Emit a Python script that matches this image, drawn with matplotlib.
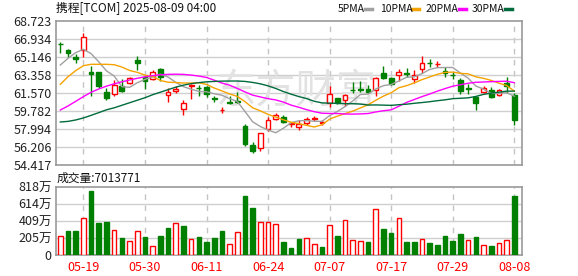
import numpy as np
import pandas as pd
import matplotlib
matplotlib.use("Agg")
import matplotlib.pyplot as plt
from matplotlib.lines import Line2D

plt.rcParams['font.family'] = ['Noto Sans CJK SC', 'DejaVu Sans']

# 日期（交易日），只标注部分刻度
tick_pos = [3, 11, 19, 27, 35, 43, 51, 59]
tick_labels = ["05-19", "05-30", "06-11", "06-24", "07-07", "07-17", "07-29", "08-08"]

# K线数据
open_ = [66.45, 65.84, 65.11, 65.84, 63.62, 63.66, 61.67, 61.50, 62.30, 62.53,
         64.85, 63.20, 62.93, 63.92, 61.34, 61.77, 60.01, 62.22, 62.10, 62.20,
         61.05, 59.86, 60.68, 60.74, 58.29, 56.40, 56.14, 58.02, 58.99, 59.22,
         58.50, 58.22, 58.56, 58.99, 58.56, 60.61, 61.04, 60.87, 61.90, 61.92,
         61.97, 61.87, 63.52, 63.09, 63.36, 63.55, 62.99, 63.92, 64.57, 64.46,
         63.76, 63.40, 62.86, 62.06, 61.21, 61.70, 61.87, 61.34, 62.60, 61.37]
close = [66.40, 65.58, 64.91, 67.10, 63.42, 62.30, 61.11, 62.36, 61.80, 63.09,
         64.58, 62.78, 63.62, 63.13, 61.67, 61.97, 60.61, 62.36, 62.05, 61.47,
         60.98, 59.90, 60.62, 60.70, 56.47, 55.84, 57.56, 58.89, 59.35, 58.72,
         58.58, 58.52, 58.95, 59.04, 58.66, 61.47, 60.54, 61.37, 61.85, 61.88,
         61.67, 63.08, 63.04, 62.43, 63.62, 63.50, 63.32, 64.58, 64.53, 64.50,
         63.59, 63.33, 61.80, 62.00, 60.61, 62.03, 61.21, 61.87, 62.27, 58.89]
high = [66.65, 65.97, 65.44, 67.50, 64.25, 63.70, 62.03, 62.86, 62.93, 63.12,
        65.25, 63.36, 63.85, 64.05, 62.03, 62.30, 60.87, 62.43, 62.36, 62.30,
        61.27, 60.21, 61.27, 61.70, 58.49, 56.73, 57.63, 59.15, 59.55, 59.35,
        58.72, 58.89, 59.15, 59.25, 58.89, 62.27, 61.10, 61.47, 62.70, 62.77,
        62.36, 63.13, 64.25, 63.19, 63.92, 64.09, 63.85, 65.25, 64.92, 64.78,
        64.12, 63.69, 63.03, 62.46, 61.27, 62.27, 62.20, 61.97, 63.19, 61.54]
low = [65.57, 65.18, 64.58, 65.11, 61.27, 62.03, 60.87, 61.27, 61.70, 62.43,
       63.85, 61.93, 62.86, 62.76, 60.71, 61.60, 59.38, 60.97, 61.27, 61.14,
       60.71, 59.62, 60.48, 60.54, 56.30, 55.64, 55.84, 57.83, 58.92, 58.62,
       58.16, 57.89, 58.39, 58.82, 58.36, 60.15, 60.48, 60.28, 61.60, 61.63,
       61.60, 61.27, 62.93, 62.36, 62.76, 63.19, 62.60, 63.59, 64.19, 64.12,
       63.19, 62.93, 61.47, 61.47, 59.88, 61.54, 61.04, 61.27, 61.60, 58.39]

# 成交量（万股）
volume = [230, 290, 290, 445, 766, 389, 397, 302, 206, 171,
          290, 218, 111, 230, 326, 385, 349, 195, 218, 163,
          206, 290, 135, 278, 711, 564, 397, 397, 373, 159,
          87, 195, 202, 131, 99, 357, 230, 417, 179, 167,
          159, 548, 314, 266, 441, 159, 159, 191, 147, 123,
          230, 171, 254, 179, 218, 119, 111, 143, 179, 701.3771]

# 均线开头部分（窗口之前的数据看不到，直接从图上读）
ma5_head = [64.35, 65.01, 65.58, 65.91]
ma10_head = [62.43, 63.19, 63.79, 64.28, 64.42, 64.42, 64.42, 64.38, 64.15]
ma20_head = [59.88, 60.28, 60.74, 61.21, 61.64, 61.97, 62.25, 62.48, 62.68, 62.86,
             63.03, 63.18, 63.30, 63.38, 63.42, 63.44, 63.42, 63.35, 63.25]
ma30_head = [58.69, 58.75, 58.89, 59.09, 59.35, 59.62, 59.90, 60.10, 60.35, 60.60,
             60.85, 61.10, 61.40, 61.65, 61.90, 62.15, 62.35, 62.50, 62.60, 62.68,
             62.72, 62.75, 62.76, 62.76, 62.72, 62.62, 62.48, 62.28, 62.02]

price_ticks = [54.417, 56.206, 57.994, 59.782, 61.570, 63.358, 65.146, 66.934, 68.723]
vol_ticks = [0, 204.5, 409, 613.5, 818]
vol_tick_labels = ["0", "205万", "409万", "614万", "818万"]

RED = "#ff0000"
GREEN = "#008000"
ma_colors = {"5PMA": "#a0a0a0", "10PMA": "#f5a300", "20PMA": "#ff00ff", "30PMA": "#006b3c"}

W, H = 578, 276


def moving_avg(head, n):
    s = pd.Series(close).rolling(n).mean().to_numpy()
    s[:len(head)] = head
    return s


def style_axes(ax):
    for sp in ax.spines.values():
        sp.set_color("#999999")
        sp.set_linewidth(1.2)
    ax.tick_params(length=0, labelsize=9, colors="#222222", pad=3)
    ax.set_xlim(-0.56, 60.0)
    for xp in tick_pos:
        ax.axvline(xp, color="#c4c4c4", lw=1, ls=(0, (4, 4)), zorder=0)


x = np.arange(len(close))
o = np.array(open_)
c = np.array(close)
up = c >= o

fig = plt.figure(figsize=(W / 100, H / 100), dpi=100)

# ---- 价格 ----
ax1 = fig.add_axes([56 / W, 1 - 165 / H, 466 / W, 144 / H])
style_axes(ax1)
ax1.set_ylim(price_ticks[0], price_ticks[-1])
ax1.set_yticks(price_ticks)
ax1.set_yticklabels([f"{t:.3f}" for t in price_ticks])
ax1.set_xticks([])
for t in price_ticks[1:-1]:
    ax1.axhline(t, color="#cfcfcf", lw=1, zorder=0)

# 水印
ax1.text(0.515, 0.51, "东方财富", transform=ax1.transAxes, fontsize=29,
         color="#e2e2e2", ha="center", va="center", zorder=0.5)

col = np.where(up, RED, GREEN)
ax1.vlines(x, low, high, colors=col, lw=1, zorder=2)
body = np.maximum(np.abs(c - o), 0.04)
ax1.bar(x, body, bottom=np.minimum(o, c), width=0.62,
        color=np.where(up, "white", GREEN), edgecolor=col, lw=1, zorder=3)

ma_data = {"5PMA": moving_avg(ma5_head, 5), "10PMA": moving_avg(ma10_head, 10),
           "20PMA": moving_avg(ma20_head, 20), "30PMA": moving_avg(ma30_head, 30)}
for name, vals in ma_data.items():
    ax1.plot(x, vals, color=ma_colors[name], lw=1, zorder=4)

# ---- 成交量 ----
ax2 = fig.add_axes([56 / W, 1 - 255.3 / H, 466 / W, 68.7 / H])
style_axes(ax2)
ax2.set_ylim(0, 818)
ax2.set_yticks(vol_ticks)
ax2.set_yticklabels(vol_tick_labels)
for t in vol_ticks[1:-1]:
    ax2.axhline(t, color="#cfcfcf", lw=1, zorder=0)
ax2.set_xticks(tick_pos)
ax2.set_xticklabels(tick_labels, color=RED)
ax2.tick_params(axis="x", pad=4)

# 成交量颜色按收盘价涨跌
vol_up = np.r_[True, np.diff(c) >= 0]
vcol = np.where(vol_up, RED, GREEN)
ax2.bar(x, volume, width=0.6, color=np.where(vol_up, "white", GREEN),
        edgecolor=vcol, lw=1, zorder=3)

# ---- 标题和图例 ----
fig.text(56 / W, 1 - 9 / H, "携程[TCOM] 2025-08-09 04:00", fontsize=8.5,
         ha="left", va="center", color="#111111")
fig.text(57 / W, 1 - 178 / H, f"成交量:{volume[-1] * 1e4:.0f}", fontsize=8.5,
         ha="left", va="center", color="#111111")

legend_x = {"5PMA": 338, "10PMA": 380, "20PMA": 426, "30PMA": 472}
dash_x = {"5PMA": 365, "10PMA": 412, "20PMA": 459, "30PMA": 505}
for name in ma_colors:
    fig.text(legend_x[name] / W, 1 - 9 / H, name, fontsize=7.5,
             ha="left", va="center", color="#111111")
    x0 = dash_x[name]
    fig.add_artist(Line2D([x0 / W, (x0 + 7) / W], [1 - 9 / H, 1 - 9 / H],
                          color=ma_colors[name], lw=2.5, transform=fig.transFigure))

fig.savefig("out.png", dpi=100)
